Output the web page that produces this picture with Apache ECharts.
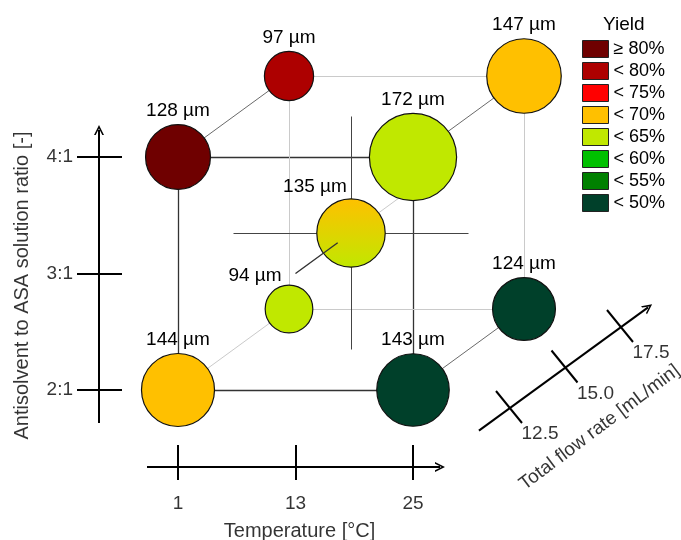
<!DOCTYPE html>
<html>
<head>
<meta charset="utf-8">
<script src="https://cdn.jsdelivr.net/npm/echarts@6/dist/echarts.min.js"></script>
<style>
  html, body { margin: 0; padding: 0; background: #fff; }
  #chart { width: 681px; height: 540px; }
</style>
</head>
<body>
<div id="chart"></div>
<script>
// Factor levels of the three-factor design
const temperatures = [1, 13, 25];
const temperatureLabels = ['1', '13', '25'];
const ratios = [2, 3, 4];
const ratioLabels = ['2:1', '3:1', '4:1'];
const flowRates = [12.5, 15.0, 17.5];
const flowRateLabels = ['12.5', '15.0', '17.5'];

// Experiments: settings, mean particle size (µm) and yield class
const expTemperature = [1, 25, 1, 25, 1, 25, 1, 25, 13];
const expRatio       = [2, 2, 4, 4, 2, 2, 4, 4, 3];
const expFlowRate    = [12.5, 12.5, 12.5, 12.5, 17.5, 17.5, 17.5, 17.5, 15.0];
const expSize        = [144, 143, 128, 172, 94, 124, 97, 147, 135];
const expYield       = ['< 70%', '< 50%', '≥ 80%', '< 65%', '< 65%', '< 50%', '< 80%', '< 70%', 'centre'];

// Yield classes and their colours
const yieldClasses = ['≥ 80%', '< 80%', '< 75%', '< 70%', '< 65%', '< 60%', '< 55%', '< 50%'];
const yieldColors  = ['#6f0000', '#ad0000', '#ff0000', '#ffc000', '#c0e800', '#00c000', '#008000', '#00402a'];

const FONT = 'Liberation Sans, Arial, sans-serif';
const T0 = temperatures[0], T1 = temperatures[2];
const R0 = ratios[0], R1 = ratios[2];
const F0 = flowRates[0], F1 = flowRates[2];

// Front face of the cube occupies the grid; depth is drawn obliquely
const GRID = { left: 178, top: 157, width: 235, height: 233 };
const PX_T = GRID.width / (T1 - T0);   // px per °C
const PX_R = GRID.height / (R1 - R0);  // px per ratio unit
const DEPTH_T = 111 / PX_T;            // horizontal shift of the back face (°C units)
const DEPTH_R = 81 / PX_R;             // vertical shift of the back face (ratio units)

// Oblique projection of (temperature, ratio, flow rate) onto the grid
function proj(t, r, f) {
  const k = (f - F0) / (F1 - F0);
  return [t + k * DEPTH_T, r + k * DEPTH_R];
}
// Shift a grid point by a pixel offset (dy positive = downwards)
function shift(p, dx, dy) {
  return [p[0] + dx / PX_T, p[1] - dy / PX_R];
}

const SIZE_SCALE = 0.507; // bubble diameter in px per µm

// ---- cube edges ----
const DARK = { color: '#333', width: 1.3, opacity: 1 };
const MID = { color: '#6a6a6a', width: 1, opacity: 1 };
const LIGHT = { color: '#cacaca', width: 1, opacity: 1 };
const CROSS = { color: '#444', width: 1, opacity: 1 };
const edges = [];
function edge(a, b, style) {
  edges.push({ coords: [proj(...a), proj(...b)], lineStyle: style });
}
// front face
edge([T0, R0, F0], [T1, R0, F0], DARK);
edge([T0, R1, F0], [T1, R1, F0], DARK);
edge([T0, R0, F0], [T0, R1, F0], DARK);
edge([T1, R0, F0], [T1, R1, F0], DARK);
// back face
edge([T0, R0, F1], [T1, R0, F1], LIGHT);
edge([T0, R1, F1], [T1, R1, F1], LIGHT);
edge([T0, R0, F1], [T0, R1, F1], LIGHT);
edge([T1, R0, F1], [T1, R1, F1], LIGHT);
// depth edges
edge([T0, R1, F0], [T0, R1, F1], MID);
edge([T1, R1, F0], [T1, R1, F1], MID);
edge([T1, R0, F0], [T1, R0, F1], MID);
edge([T0, R0, F0], [T0, R0, F1], LIGHT);
// axes through the centre point
const Tm = temperatures[1], Rm = ratios[1], Fm = flowRates[1];
edge([T0, Rm, Fm], [T1, Rm, Fm], CROSS);
edge([Tm, R0, Fm], [Tm, R1, Fm], CROSS);
edge([Tm, Rm, F0], [Tm, Rm, F1], LIGHT);
// visible front part of the flow-rate line through the centre point
const centreFront = [{ coords: [proj(Tm, Rm, F0), proj(Tm, Rm, 14.4)], lineStyle: DARK }];

// ---- bubbles ----
function bubbleItem(i) {
  const item = { value: [...proj(expTemperature[i], expRatio[i], expFlowRate[i]), expSize[i]] };
  if (expSize[i] === 94) item.label = { offset: [-34, 5] };
  if (expYield[i] === 'centre') item.label = { offset: [-36, 2] };
  return item;
}
const bubbleLabel = {
  show: true, position: 'top', distance: 4,
  formatter: p => p.value[2] + ' µm',
  fontFamily: FONT, fontSize: 19, color: '#000'
};
const bubbleSeries = yieldClasses.map((cls, k) => ({
  type: 'scatter', name: cls, clip: false, z: 5,
  data: expYield.map((y, i) => (y === cls ? bubbleItem(i) : null)).filter(Boolean),
  symbolSize: v => v[2] * SIZE_SCALE,
  itemStyle: { color: yieldColors[k], borderColor: '#111', borderWidth: 1.2, opacity: 1 },
  label: bubbleLabel
}));
// centre point lies between two yield classes: gradient fill
bubbleSeries.push({
  type: 'scatter', name: 'centre', clip: false, z: 5,
  data: expYield.map((y, i) => (y === 'centre' ? bubbleItem(i) : null)).filter(Boolean),
  symbolSize: v => v[2] * SIZE_SCALE,
  itemStyle: {
    color: { type: 'linear', x: 0, y: 0, x2: 0, y2: 1,
      colorStops: [{ offset: 0, color: yieldColors[3] }, { offset: 1, color: yieldColors[4] }] },
    borderColor: '#111', borderWidth: 1.2, opacity: 1
  },
  label: bubbleLabel
});

// ---- drawn axes ----
const CHEVRON = 'path://M0,10 L5,0 L10,10 L8.3,10 L5,3.4 L1.7,10 Z';
const axisLines = [];
const axisTicks = [];
const axisTexts = [];
function text(p, str, extra) {
  axisTexts.push({ value: p, label: Object.assign({ formatter: str }, extra || {}) });
}

// ratio axis (vertical, left of the cube)
const ratioAxisT = T0 - 79 / PX_T;
axisLines.push({ coords: [shift([ratioAxisT, R0], 0, 33), shift([ratioAxisT, R1], 0, -27)] });
ratios.forEach((r, i) => {
  axisTicks.push({ coords: [shift([ratioAxisT, r], -22, 0), shift([ratioAxisT, r], 23, 0)] });
  text(shift([ratioAxisT, r], -22, 0), ratioLabels[i], { position: 'left', distance: 4 });
});
text(shift([ratioAxisT, (R0 + R1) / 2], -77, 12), 'Antisolvent to ASA solution ratio [-]',
  { position: 'inside', rotate: 90, fontSize: 20 });

// temperature axis (horizontal, below the cube)
const tempAxisR = R0 - 77 / PX_R;
axisLines.push({ coords: [shift([T0, tempAxisR], -31, 0), shift([T1, tempAxisR], 27, 0)] });
temperatures.forEach((t, i) => {
  axisTicks.push({ coords: [shift([t, tempAxisR], 0, -22), shift([t, tempAxisR], 0, 13)] });
  text(shift([t, tempAxisR], 0, 37), temperatureLabels[i], { position: 'inside' });
});
text(shift([Tm, tempAxisR], 4, 64), 'Temperature [°C]', { position: 'inside', fontSize: 20 });

// flow-rate axis (oblique, right of the cube)
const flowAnchor = shift([T1, R0], 97, 18);
function flowPoint(f) {
  const k = (f - F0) / (F1 - F0);
  return [flowAnchor[0] + k * DEPTH_T, flowAnchor[1] + k * DEPTH_R];
}
axisLines.push({ coords: [flowPoint(11.1), shift(flowPoint(18.9), -4, 3)] });
flowRates.forEach((f, i) => {
  const p = flowPoint(f);
  axisTicks.push({ coords: [shift(p, -14, -17), shift(p, 12, 15)] });
  text(shift(p, 30, 26), flowRateLabels[i], { position: 'inside' });
});
text(shift(flowPoint(Fm), 34, 60), 'Total flow rate [mL/min]', { position: 'inside', rotate: 37 });

const chart = echarts.init(document.getElementById('chart'), null, { renderer: 'canvas' });
chart.setOption({
  animation: false,
  backgroundColor: '#fff',
  title: {
    text: 'Yield', left: 598, top: 10,
    textStyle: { fontFamily: FONT, fontSize: 19, fontWeight: 'normal', color: '#000' }
  },
  legend: {
    data: yieldClasses, orient: 'vertical', left: 577, top: 35,
    itemWidth: 26, itemHeight: 17, itemGap: 4, icon: 'rect', selectedMode: false,
    itemStyle: { borderColor: '#222', borderWidth: 1 },
    textStyle: { fontFamily: FONT, fontSize: 18, color: '#000' }
  },
  grid: GRID,
  xAxis: { type: 'value', min: T0, max: T1, show: false },
  yAxis: { type: 'value', min: R0, max: R1, show: false },
  series: [
    { type: 'lines', coordinateSystem: 'cartesian2d', clip: false, silent: true, z: 1, data: edges },
    { type: 'lines', coordinateSystem: 'cartesian2d', clip: false, silent: true, z: 2,
      lineStyle: { color: '#000', width: 2, opacity: 1 }, symbol: ['none', CHEVRON], symbolSize: 10, data: axisLines },
    { type: 'lines', coordinateSystem: 'cartesian2d', clip: false, silent: true, z: 2,
      lineStyle: { color: '#000', width: 2, opacity: 1 }, data: axisTicks },
    { type: 'scatter', clip: false, silent: true, z: 3, symbolSize: 0, data: axisTexts,
      label: { show: true, fontFamily: FONT, fontSize: 19, color: '#000' } },
    ...bubbleSeries,
    { type: 'lines', coordinateSystem: 'cartesian2d', clip: false, silent: true, z: 6, data: centreFront }
  ]
});
</script>
</body>
</html>
